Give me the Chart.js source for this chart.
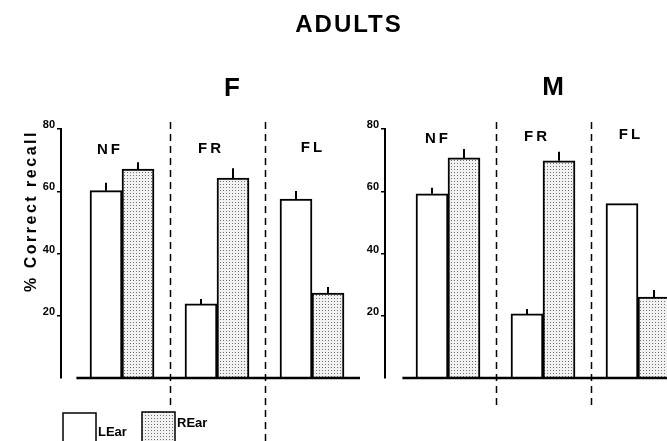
<!DOCTYPE html>
<html>
<head>
<meta charset="utf-8">
<script src="https://cdn.jsdelivr.net/npm/chart.js@4"></script>
<style>
  html, body { margin: 0; padding: 0; background: #fff; overflow: hidden; width: 667px; height: 441px; }
  .wrap { position: relative; width: 667px; height: 441px; overflow: hidden; }
  canvas { position: absolute; left: 0; top: 0; }
</style>
</head>
<body>
<div class="wrap">
  <canvas id="femaleChart" width="667" height="441"></canvas>
  <canvas id="maleChart" width="740" height="441"></canvas>
</div>
<script>
// values
const groups = ["NF", "FR", "FL"];
const seriesNames = ["LEar", "REar"];
const yTicks = [20, 40, 60, 80];

const femaleLEar = [60.2, 23.8, 57.5];
const femaleREar = [67.1, 64.2, 27.3];
const femaleLEarErr = [2.5, 1.6, 2.6];
const femaleREarErr = [2.2, 3.2, 1.9];

const maleLEar = [59.2, 20.6, 56.0];
const maleREar = [70.7, 69.8, 26.0];
const maleLEarErr = [1.9, 1.6, 0];
const maleREarErr = [2.9, 2.9, 2.3];

const FONT = '"Liberation Sans", Arial, Helvetica, sans-serif';

function dotPattern() {
  const c = document.createElement("canvas");
  c.width = 3; c.height = 3;
  const g = c.getContext("2d");
  g.fillStyle = "#f2f2f2";
  g.fillRect(0, 0, 3, 3);
  g.fillStyle = "#707070";
  g.fillRect(1, 1, 1, 1);
  return g.createPattern(c, "repeat");
}
const dots = dotPattern();

function boldText(ctx, text, x, y, size, align, spacing) {
  ctx.save();
  ctx.font = "bold " + size + "px " + FONT;
  ctx.fillStyle = "#000";
  ctx.textAlign = align || "center";
  ctx.textBaseline = "alphabetic";
  if (spacing) ctx.letterSpacing = spacing + "px";
  ctx.fillText(text, x, y);
  ctx.restore();
}

// error bars, baseline, dashed dividers and labels
const panelDecor = {
  id: "panelDecor",
  afterDatasetsDraw(chart, args, opts) {
    const ctx = chart.ctx;
    const xs = chart.scales.x;
    const ys = chart.scales.y;

    ctx.save();
    ctx.strokeStyle = "#000";
    ctx.lineWidth = 2;
    chart.data.datasets.forEach((ds, di) => {
      const meta = chart.getDatasetMeta(di);
      meta.data.forEach((bar, i) => {
        const err = ds.err[i];
        if (!err) return;
        const v = ds.data[i].y;
        ctx.beginPath();
        ctx.moveTo(bar.x, bar.y);
        ctx.lineTo(bar.x, ys.getPixelForValue(v + err));
        ctx.stroke();
      });
    });

    // baseline
    const y0 = ys.getPixelForValue(0);
    ctx.lineWidth = 2.5;
    ctx.beginPath();
    ctx.moveTo(xs.getPixelForValue(opts.baseStart), y0);
    ctx.lineTo(chart.chartArea.right, y0);
    ctx.stroke();

    // dashed dividers between groups
    ctx.lineWidth = 1.5;
    ctx.setLineDash([7, 5]);
    [1.5, 2.5].forEach((v, i) => {
      const x = Math.round(xs.getPixelForValue(v)) + 0.5;
      ctx.beginPath();
      ctx.moveTo(x, 122);
      ctx.lineTo(x, opts.dividerBottom[i]);
      ctx.stroke();
    });
    ctx.restore();

    // group labels
    groups.forEach((g, i) => {
      boldText(ctx, g, xs.getPixelForValue(i + 1) + opts.labelShift[i], opts.labelY[i], 15, "center", 3);
    });

    // panel title
    boldText(ctx, opts.title, opts.titleX, opts.titleY, 26, "center");

    if (opts.withFrame) {
      boldText(ctx, "ADULTS", 349, 32, 24, "center", 2);

      ctx.save();
      ctx.translate(36, 211);
      ctx.rotate(-Math.PI / 2);
      boldText(ctx, "% Correct recall", 0, 0, 16, "center", 2.5);
      ctx.restore();

      // legend
      ctx.save();
      ctx.strokeStyle = "#000";
      ctx.lineWidth = 1.5;
      ctx.fillStyle = "#fff";
      ctx.fillRect(63, 413, 33, 40);
      ctx.strokeRect(63, 413, 33, 40);
      ctx.fillStyle = dots;
      ctx.fillRect(142, 412, 33, 40);
      ctx.strokeRect(142, 412, 33, 40);
      ctx.restore();
      boldText(ctx, seriesNames[0], 98, 436, 13, "left");
      boldText(ctx, seriesNames[1], 177, 427, 13, "left");
    }
  }
};

function makePanel(id, lVals, rVals, lErr, rErr, o) {
  return new Chart(document.getElementById(id), {
    type: "bar",
    data: {
      datasets: [
        {
          label: seriesNames[0],
          data: lVals.map((v, i) => ({ x: i + 1, y: v })),
          err: lErr,
          backgroundColor: "#fff",
          borderColor: "#000",
          borderWidth: 2,
          barThickness: 32
        },
        {
          label: seriesNames[1],
          data: rVals.map((v, i) => ({ x: i + 1, y: v })),
          err: rErr,
          backgroundColor: dots,
          borderColor: "#000",
          borderWidth: 2,
          barThickness: 32
        }
      ]
    },
    options: {
      responsive: false,
      animation: false,
      layout: { padding: { left: o.padLeft, right: o.padRight, top: 129, bottom: 63 } },
      plugins: {
        legend: { display: false },
        tooltip: { enabled: false },
        panelDecor: o
      },
      scales: {
        x: { type: "linear", min: o.xMin, max: o.xMax, offset: false, display: false },
        y: {
          min: 0,
          max: 80,
          afterFit(s) { s.width = 40; },
          afterBuildTicks(s) { s.ticks = yTicks.map(v => ({ value: v })); },
          border: { color: "#000", width: 2 },
          grid: { drawOnChartArea: false, tickLength: 4, color: "#000", lineWidth: 1.5 },
          ticks: { padding: 2, labelOffset: -4, color: "#000", font: { family: FONT, size: 11, weight: "bold" } }
        }
      }
    },
    plugins: [panelDecor]
  });
}

makePanel("femaleChart", femaleLEar, femaleREar, femaleLEarErr, femaleREarErr, {
  title: "F", titleX: 232, titleY: 96,
  padLeft: 21, padRight: 307,
  xMin: 1 - 61 / 95, xMax: 1 - 61 / 95 + 299 / 95,
  baseStart: 0.52,
  dividerBottom: [405, 441],
  labelShift: [-12, -6, 1],
  labelY: [154, 153, 152],
  withFrame: true
});

makePanel("maleChart", maleLEar, maleREar, maleLEarErr, maleREarErr, {
  title: "M", titleX: 553, titleY: 95,
  padLeft: 345, padRight: 0,
  xMin: 1 - 63 / 95, xMax: 1 - 63 / 95 + 355 / 95,
  baseStart: 0.52,
  dividerBottom: [410, 410],
  labelShift: [-10, -6, -7],
  labelY: [143, 141, 139],
  withFrame: false
});
</script>
</body>
</html>
